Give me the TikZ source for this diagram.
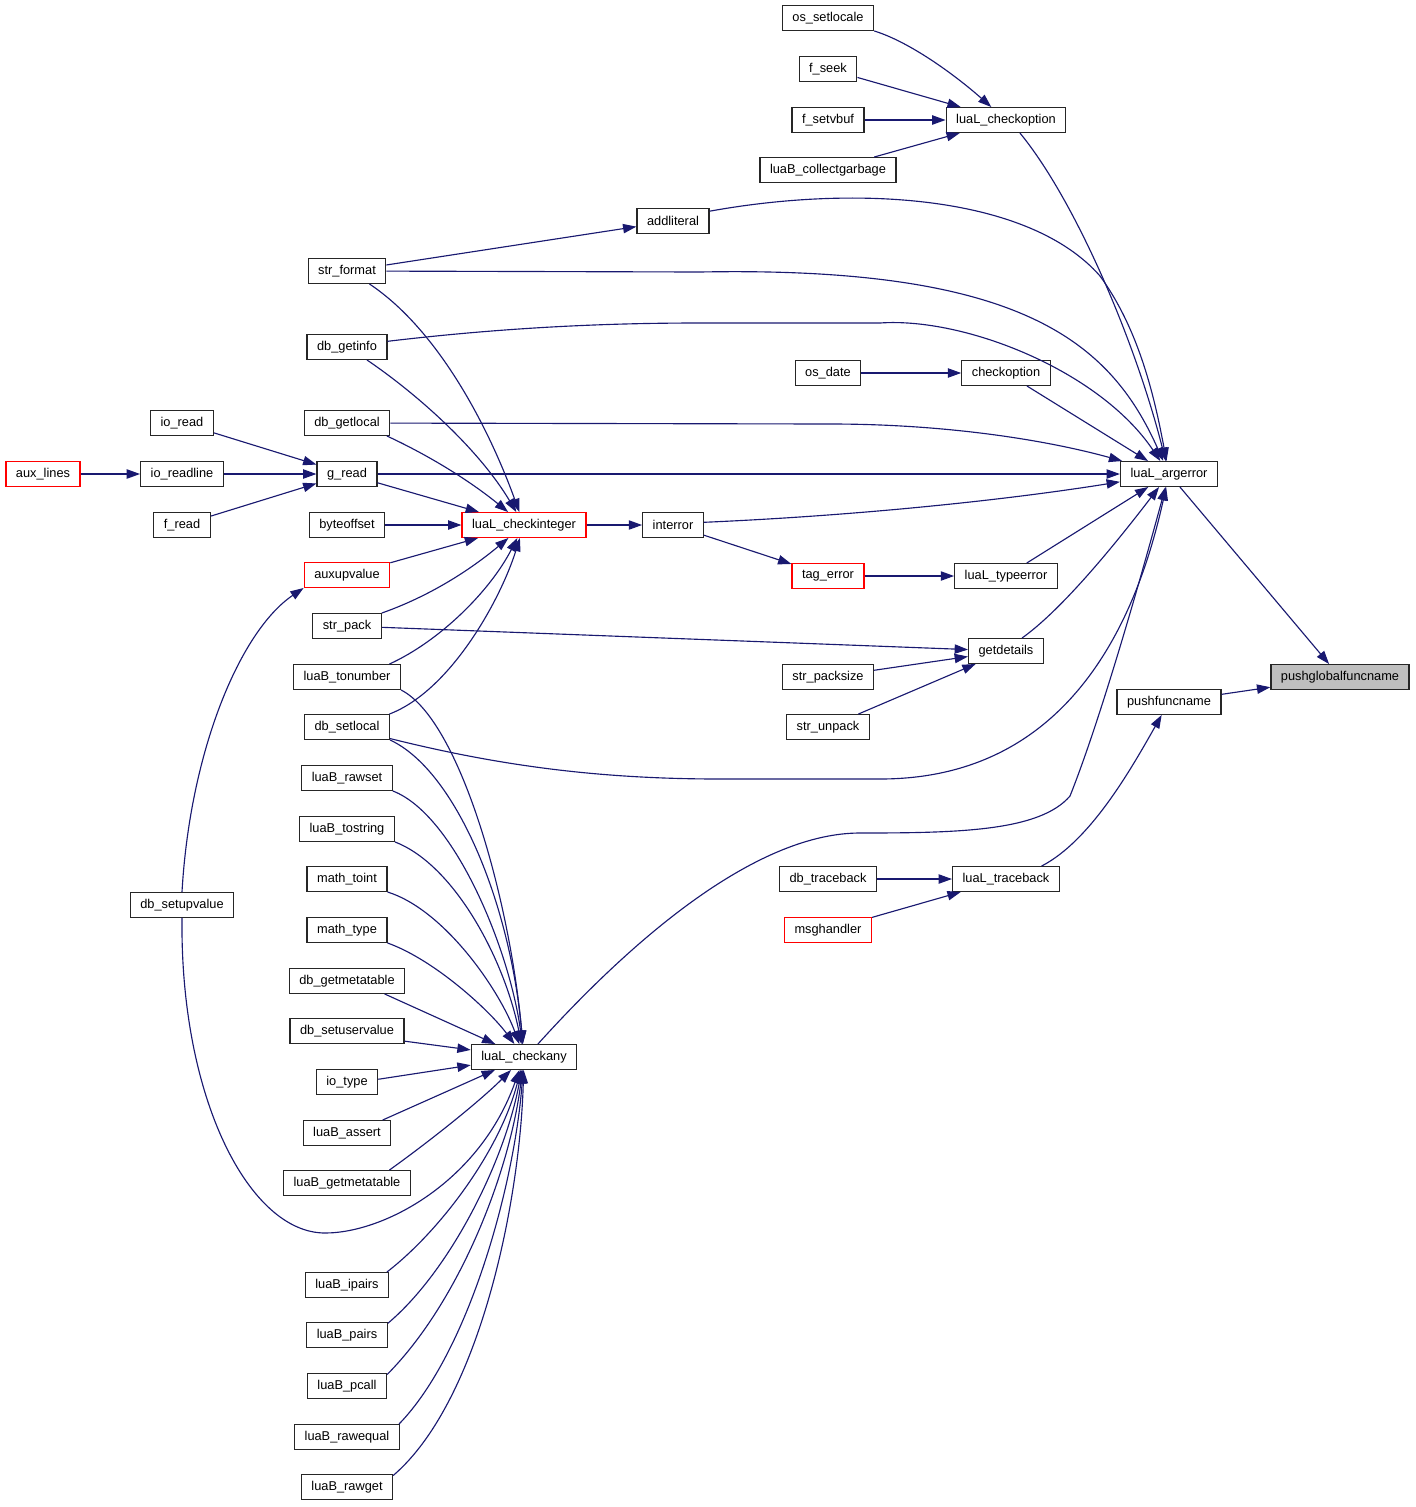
\documentclass[tikz,border=0pt]{standalone}
\usepackage{fontspec}
\setmainfont{Liberation Sans}
\usetikzlibrary{arrows.meta}
\definecolor{edgecol}{HTML}{191970}
\definecolor{hlgray}{HTML}{BFBFBF}
\begin{document}
\begin{tikzpicture}[x=0.75pt,y=-0.75pt,
  fn/.style={draw=black!85, line width=0.95pt, fill=white, rectangle, minimum height=18.5pt,
    inner xsep=7.5pt, inner ysep=0pt, font=\fontsize{9.6}{11}\selectfont},
  redfn/.style={fn, draw=red},
  curfn/.style={fn, fill=hlgray},
  call/.style={draw=edgecol, line width=0.85pt, -{Triangle[length=10pt,width=7pt]}}]
\useasboundingbox (0,0) rectangle (1416,1507);

% nodes
\node[fn] (osl) at (828,18) {os\_setlocale};
\node[fn] (fseek) at (828,69) {f\_seek};
\node[fn] (fsetvbuf) at (828,120) {f\_setvbuf};
\node[fn] (collect) at (828,170) {luaB\_collectgarbage};
\node[fn] (chkopt) at (1006,120) {luaL\_checkoption};
\node[fn] (addlit) at (673,221) {addliteral};
\node[fn] (strfmt) at (347,271) {str\_format};
\node[fn] (getinfo) at (347,347) {db\_getinfo};
\node[fn] (osdate) at (828,373) {os\_date};
\node[fn] (checkopt) at (1006,373) {checkoption};
\node[fn] (ioread) at (182,423) {io\_read};
\node[fn] (getlocal) at (347,423) {db\_getlocal};
\node[redfn] (auxlines) at (43,474) {aux\_lines};
\node[fn] (readline) at (182,474) {io\_readline};
\node[fn] (gread) at (347,474) {g\_read};
\node[fn] (argerr) at (1169,474) {luaL\_argerror};
\node[fn] (fread) at (182,525) {f\_read};
\node[fn] (byteoff) at (347,525) {byteoffset};
\node[redfn] (chkint) at (524,525) {luaL\_checkinteger};
\node[fn] (interr) at (673,525) {interror};
\node[redfn] (auxup) at (347,575) {auxupvalue};
\node[redfn] (tagerr) at (828,576) {tag\_error};
\node[fn] (typeerr) at (1006,576) {luaL\_typeerror};
\node[fn] (strpack) at (347,626) {str\_pack};
\node[fn] (getdet) at (1006,651) {getdetails};
\node[curfn] (pgf) at (1340,677) {pushglobalfuncname};
\node[fn] (tonum) at (347,677) {luaB\_tonumber};
\node[fn] (packsize) at (828,677) {str\_packsize};
\node[fn] (pushfn) at (1169,702) {pushfuncname};
\node[fn] (setlocal) at (347,727) {db\_setlocal};
\node[fn] (unpack) at (828,727) {str\_unpack};
\node[fn] (rawset) at (347,778) {luaB\_rawset};
\node[fn] (tostr) at (347,829) {luaB\_tostring};
\node[fn] (toint) at (347,879) {math\_toint};
\node[fn] (dbtrace) at (828,879) {db\_traceback};
\node[fn] (ltrace) at (1006,879) {luaL\_traceback};
\node[fn] (setupv) at (182,905) {db\_setupvalue};
\node[fn] (mtype) at (347,930) {math\_type};
\node[redfn] (msgh) at (828,930) {msghandler};
\node[fn] (getmt) at (347,981) {db\_getmetatable};
\node[fn] (setuv) at (347,1031) {db\_setuservalue};
\node[fn] (chkany) at (524,1057) {luaL\_checkany};
\node[fn] (iotype) at (347,1082) {io\_type};
\node[fn] (assert) at (347,1133) {luaB\_assert};
\node[fn] (bgetmt) at (347,1183) {luaB\_getmetatable};
\node[fn] (ipairs) at (347,1285) {luaB\_ipairs};
\node[fn] (pairs) at (347,1335) {luaB\_pairs};
\node[fn] (pcall) at (347,1386) {luaB\_pcall};
\node[fn] (raweq) at (347,1437) {luaB\_rawequal};
\node[fn] (rawget) at (347,1487) {luaB\_rawget};

% edges
\draw[call] (argerr) -- (pgf);
\draw[call] (pushfn) -- (pgf);
\draw[call] (chkopt.-43) .. controls (1075,200) and (1135,340) .. (argerr);
\draw[call] (osl.south east) .. controls (910,42) and (955,75) .. (chkopt);
\draw[call] (fseek) -- (chkopt);
\draw[call] (fsetvbuf) -- (chkopt);
\draw[call] (collect) -- (chkopt);
\draw[call] (addlit.15) .. controls (860,184) and (1030,196) .. (1100,276) .. controls (1140,331) and (1155,400) .. (argerr);
\draw[call] (strfmt) -- (addlit);
\draw[call] (strfmt) -- (700,272) .. controls (1020,266) and (1110,341) .. (argerr);
\draw[call] (strfmt.-30) .. controls (440,331) and (490,431) .. (chkint);
\draw[call] (getinfo.8) .. controls (500,328) and (600,323) .. (700,323) -- (880,323) .. controls (965,317) and (1100,371) .. (argerr);
\draw[call] (getinfo.-33) .. controls (420,396) and (480,451) .. (chkint);
\draw[call] (osdate) -- (checkopt);
\draw[call] (checkopt) -- (argerr);
\draw[call] (ioread) -- (gread);
\draw[call] (getlocal) -- (830,424) .. controls (950,424) and (1050,441) .. (argerr);
\draw[call] (getlocal.-18) .. controls (430,456) and (470,481) .. (chkint);
\draw[call] (auxlines) -- (readline);
\draw[call] (readline) -- (gread);
\draw[call] (gread) -- (argerr);
\draw[call] (gread) -- (chkint);
\draw[call] (fread) -- (gread);
\draw[call] (byteoff) -- (chkint);
\draw[call] (chkint) -- (interr);
\draw[call] (interr.5) .. controls (850,516) and (1000,501) .. (argerr);
\draw[call] (interr) -- (tagerr);
\draw[call] (tagerr) -- (typeerr);
\draw[call] (typeerr) -- (argerr);
\draw[call] (auxup) -- (chkint);
\draw[call] (strpack.north east) .. controls (430,596) and (470,570) .. (chkint);
\draw[call] (strpack) -- (getdet);
\draw[call] (getdet.39) .. controls (1060,611) and (1110,551) .. (argerr);
\draw[call] (packsize) -- (getdet);
\draw[call] (unpack) -- (getdet);
\draw[call] (tonum.17) .. controls (440,641) and (490,591) .. (chkint);
\draw[call] (tonum.south east) .. controls (460,720) and (510,900) .. (chkany);
\draw[call] (setlocal.17) .. controls (450,691) and (500,601) .. (chkint);
\draw[call] (setlocal.-15) .. controls (500,766) and (600,779) .. (720,779) -- (880,779) .. controls (1050,779) and (1130,651) .. (argerr);
\draw[call] (setlocal.south east) .. controls (455,770) and (510,901) .. (chkany);
\draw[call] (rawset.south east) .. controls (455,815) and (510,951) .. (chkany);
\draw[call] (tostr.south east) .. controls (455,865) and (505,961) .. (chkany);
\draw[call] (toint.south east) .. controls (445,910) and (500,991) .. (chkany);
\draw[call] (mtype.south east) .. controls (435,960) and (490,1011) .. (chkany);
\draw[call] (getmt.-19) -- (chkany);
\draw[call] (setuv.-10) -- (chkany);
\draw[call] (iotype.5) -- (chkany);
\draw[call] (assert.20) -- (chkany);
\draw[call] (bgetmt.17) .. controls (430,1141) and (480,1101) .. (chkany);
\draw[call] (ipairs.18) .. controls (440,1231) and (500,1151) .. (chkany);
\draw[call] (pairs.16) .. controls (450,1271) and (505,1161) .. (chkany);
\draw[call] (pcall.16) .. controls (460,1301) and (510,1171) .. (chkany);
\draw[call] (raweq.14) .. controls (470,1351) and (515,1181) .. (chkany);
\draw[call] (rawget.14) .. controls (480,1401) and (520,1201) .. (chkany);
\draw[call] (chkany.43) .. controls (640,931) and (760,833) .. (860,833) .. controls (960,833) and (1040,831) .. (1070,796) .. controls (1100,721) and (1140,581) .. (argerr);
\draw[call] (setupv.north) .. controls (190,751) and (240,631) .. (auxup.south west);
\draw[call] (setupv.south) .. controls (180,1100) and (250,1233) .. (325,1233) .. controls (385,1233) and (480,1181) .. (chkany);
\draw[call] (dbtrace) -- (ltrace);
\draw[call] (msgh) -- (ltrace);
\draw[call] (ltrace.20) .. controls (1090,841) and (1130,771) .. (pushfn);
\end{tikzpicture}
\end{document}
